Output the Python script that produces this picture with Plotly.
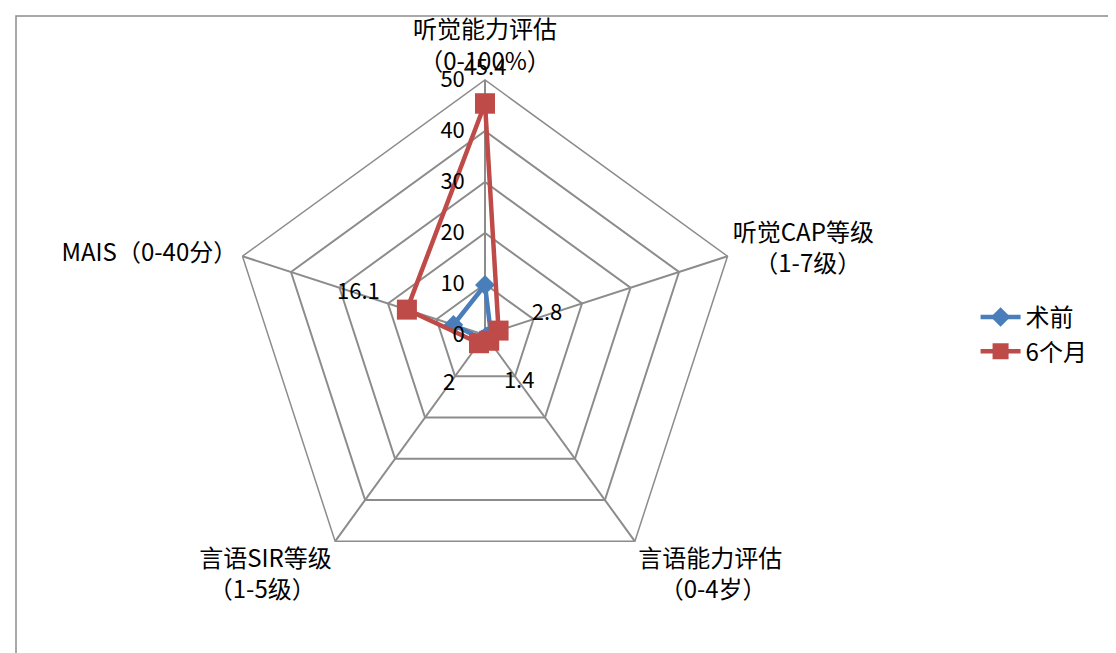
import plotly.graph_objects as go

categories = ["听觉能力评估（0-100%）", "听觉CAP等级（1-7级）", "言语能力评估（0-4岁）",
              "言语SIR等级（1-5级）", "MAIS（0-40分）"]
NB = "\u00a0"
category_labels = ["听觉能力评估<br>（0-100%）",
                   "听觉CAP等级<br>" + NB * 4 + "（1-7级）",
                   "言语能力评估<br>" + NB * 4 + "（0-4岁）",
                   "言语SIR等级<br>（1-5级）" + NB * 3,
                   "MAIS（0-40分）"]
pre_values = [9.8, 1.2, 0.3, 1.0, 6.5]
post_values = [45.4, 2.8, 1.4, 2.0, 16.1]
post_labels = ["45.4", "2.8", "1.4", "2", "16.1"]
series_names = ["术前", "6个月"]
radial_ticks = [0, 10, 20, 30, 40, 50]
radial_max = 50

W, H = 1116, 653
FONT = "Noto Sans CJK SC"
BLUE = "#4A7EBB"
RED = "#BE4B48"
GRID = "#8C8C8C"
LABEL_OFFSET = 10  # data-label distance outward along the axis (in axis units)

theta_closed = categories + categories[:1]

label_r = [min(v + LABEL_OFFSET, radial_max) for v in post_values]
label_pos = ["top center" if v + LABEL_OFFSET > radial_max else "middle center" for v in post_values]

fig = go.Figure()
fig.add_trace(go.Scatterpolar(
    r=pre_values + pre_values[:1], theta=theta_closed, name=series_names[0],
    mode="lines+markers",
    line=dict(color=BLUE, width=4.5),
    marker=dict(symbol="diamond", size=15, color=BLUE),
))
fig.add_trace(go.Scatterpolar(
    r=post_values + post_values[:1], theta=theta_closed, name=series_names[1],
    mode="lines+markers",
    line=dict(color=RED, width=4.5),
    marker=dict(symbol="square", size=20, color=RED),
))
fig.add_trace(go.Scatterpolar(
    r=label_r, theta=categories,
    mode="text", text=post_labels, textposition=label_pos,
    showlegend=False, cliponaxis=False,
    textfont=dict(family=FONT, size=22, color="#000000"),
    hoverinfo="skip",
))

cx, cy, R = 477, 327, 255
fig.update_layout(
    width=W, height=H,
    margin=dict(l=0, r=0, t=0, b=0),
    paper_bgcolor="white",
    font=dict(family=FONT, size=24, color="#000000"),
    polar=dict(
        domain=dict(x=[(cx - R) / W, (cx + R) / W], y=[1 - (cy + R) / H, 1 - (cy - R) / H]),
        bgcolor="white",
        gridshape="linear",
        radialaxis=dict(
            range=[0, radial_max], tickvals=radial_ticks, angle=90, tickangle=90,
            side="counterclockwise", showline=False,
            ticks="outside", ticklen=12, tickcolor="rgba(0,0,0,0)",
            gridcolor=GRID, gridwidth=1.5,
            tickfont=dict(family=FONT, size=22, color="#000000"),
        ),
        angularaxis=dict(
            direction="clockwise", rotation=90,
            tickvals=categories, ticktext=category_labels,
            showline=True, linecolor=GRID, linewidth=1.5,
            gridcolor=GRID, gridwidth=1.5, ticks="",
            tickfont=dict(family=FONT, size=24, color="#000000"),
        ),
    ),
    legend=dict(
        x=0.867, y=0.5, xanchor="left", yanchor="middle",
        font=dict(family=FONT, size=24, color="#000000"),
        bgcolor="rgba(0,0,0,0)", itemwidth=40,
    ),
    shapes=[dict(type="rect", xref="paper", yref="paper",
                 x0=8 / W, x1=1.02, y0=-0.02, y1=1 - 8 / H,
                 line=dict(color="#8C8C8C", width=1.5))],
)

fig.write_html("out.html")
